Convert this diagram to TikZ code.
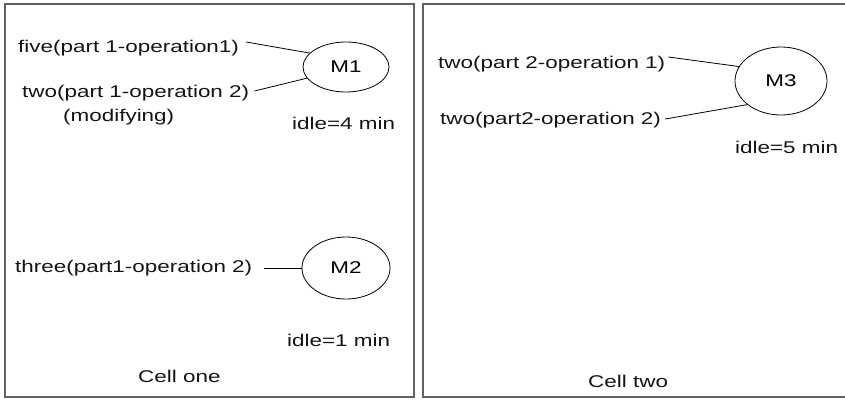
\documentclass[tikz,border=0pt]{standalone}
\usepackage{fontspec}
\setmainfont{Liberation Sans}[FakeStretch=1.32]
\usetikzlibrary{shapes.geometric}
\tikzset{
  cellframe/.style={draw=black!62, line width=1.7pt},
  machine/.style={draw=black, line width=0.8pt, ellipse, inner sep=0pt},
  txt/.style={inner sep=0pt, anchor=base west, text=black!92},
  link/.style={draw=black, line width=0.8pt}
}
\begin{document}
\begin{tikzpicture}[x=1pt,y=-1pt,font=\fontsize{17}{20}\selectfont]
\useasboundingbox (0,0) rectangle (845,399);
\clip (0,0) rectangle (845,399);
\fill[white] (0,0) rectangle (845,399);

% cell frames
\draw[cellframe] (5,4) rectangle (414,397);
\draw[cellframe] (423,4) rectangle (852,397);

% cell one
\node[machine, minimum width=86pt, minimum height=50pt] (m1) at (346,67) {M1};
\node[txt] (five) at (18,52) {five(part 1-operation1)};
\node[txt] (two1) at (22,97) {two(part 1-operation 2)};
\node[txt] (modif) at (63,121) {(modifying)};
\node[txt] (idle4) at (292,129) {idle=4 min};
\draw[link] ([shift={(7pt,10pt)}]five.base east) -- (m1.159);
\draw[link] ([shift={(5pt,6pt)}]two1.base east) -- (m1.196);

\node[machine, minimum width=88pt, minimum height=62pt] (m2) at (346,268) {M2};
\node[txt] (three) at (15,272) {three(part1-operation 2)};
\node[txt] (idle1) at (287,346) {idle=1 min};
\draw[link] ([shift={(12pt,4pt)}]three.base east) -- (m2.180);

\node[txt] (cellone) at (138,382) {Cell one};

% cell two
\node[machine, minimum width=92pt, minimum height=68pt] (m3) at (781,81) {M3};
\node[txt] (two21) at (438,68) {two(part 2-operation 1)};
\node[txt] (two22) at (440,124) {two(part2-operation 2)};
\node[txt] (idle5) at (735,153) {idle=5 min};
\draw[link] ([shift={(3pt,11pt)}]two21.base east) -- (m3.161);
\draw[link] ([shift={(4pt,5pt)}]two22.base east) -- (m3.215);

\node[txt] (celltwo) at (588,387) {Cell two};
\end{tikzpicture}
\end{document}
